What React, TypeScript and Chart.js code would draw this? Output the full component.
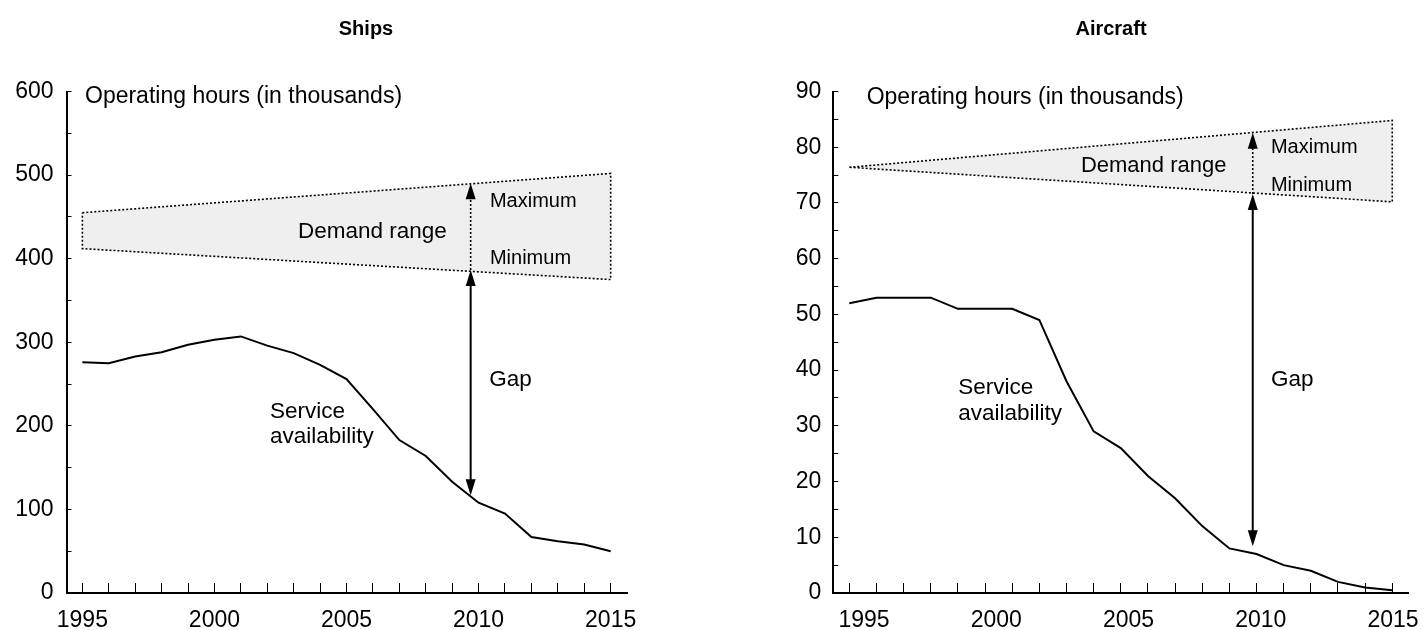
import React, { useEffect, useRef } from 'react';
import { Chart, registerables } from 'chart.js';

Chart.register(...registerables);

// ---------- data ----------
const years = [1995, 1996, 1997, 1998, 1999, 2000, 2001, 2002, 2003, 2004, 2005, 2006, 2007, 2008, 2009, 2010, 2011, 2012, 2013, 2014, 2015];
const axisLabelYears = [1995, 2000, 2005, 2010, 2015];
const demandYears = [1995, 2015];

const shipsAvailability = [276, 275, 283, 288, 297, 303, 307, 296, 287, 273, 256, 220, 183, 164, 133, 108, 95, 67, 62, 58, 50];
const shipsDemandMax = [455, 502];
const shipsDemandMin = [412, 375];
// year of the gap arrow, maximum tip, minimum tip, availability tip
const shipsArrow = [2009.7, 490.3, 386.5, 117];

const aircraftAvailability = [52, 53, 53, 53, 51, 51, 51, 49, 38, 29, 26, 21, 17, 12, 8, 7, 5, 4, 2, 1, 0.5];
const aircraftDemandMax = [76.4, 84.8];
const aircraftDemandMin = [76.4, 70.2];
const aircraftArrow = [2009.86, 82.6, 71.6, 8.4];

const FONT = "'Liberation Sans', Arial, Helvetica, sans-serif";

type Txt = { t: string; x: number; y: number; s: number };
type Panel = {
  title: string;
  titleX: number;
  left: number;
  width: number;
  axisLeft: number;
  padRight: number;
  availability: number[];
  demandMax: number[];
  demandMin: number[];
  arrow: number[];
  yMax: number;
  yStep: number;
  yLabelEvery: number;
  yLabelPad: number;
  xRange: number[];
  labelRange: number[];
  texts: Txt[];
};

const panels: Panel[] = [
  {
    title: 'Ships',
    titleX: 366,
    left: 0,
    width: 713,
    axisLeft: 66.5,
    padRight: 85.7,
    availability: shipsAvailability,
    demandMax: shipsDemandMax,
    demandMin: shipsDemandMin,
    arrow: shipsArrow,
    yMax: 600,
    yStep: 50,
    yLabelEvery: 100,
    yLabelPad: 18,
    xRange: [1994.4, 2015.63],
    labelRange: [1994.4, 2015.63],
    texts: [
      { t: 'Operating hours (in thousands)', x: 1995.1, y: 585.9, s: 23 },
      { t: 'Demand range', x: 2003.16, y: 424.4, s: 22.5 },
      { t: 'Maximum', x: 2010.43, y: 462.2, s: 20 },
      { t: 'Minimum', x: 2010.43, y: 393.6, s: 20 },
      { t: 'Gap', x: 2010.4, y: 247.7, s: 22.5 },
      { t: 'Service', x: 2002.1, y: 209, s: 22.5 },
      { t: 'availability', x: 2002.1, y: 179.1, s: 22.5 },
    ],
  },
  {
    title: 'Aircraft',
    titleX: 398,
    left: 713,
    width: 713,
    axisLeft: 120.3,
    padRight: 17.7,
    availability: aircraftAvailability,
    demandMax: aircraftDemandMax,
    demandMin: aircraftDemandMin,
    arrow: aircraftArrow,
    yMax: 90,
    yStep: 5,
    yLabelEvery: 10,
    yLabelPad: 17,
    xRange: [1994.41, 2015.59],
    labelRange: [1993.84, 2015.58],
    texts: [
      { t: 'Operating hours (in thousands)', x: 1995.64, y: 87.76, s: 23 },
      { t: 'Demand range', x: 2003.53, y: 75.6, s: 22 },
      { t: 'Maximum', x: 2010.53, y: 78.9, s: 20 },
      { t: 'Minimum', x: 2010.53, y: 72.15, s: 20 },
      { t: 'Gap', x: 2010.53, y: 37.15, s: 22.5 },
      { t: 'Service', x: 1999.01, y: 35.7, s: 22.5 },
      { t: 'availability', x: 1999.01, y: 31.05, s: 22.5 },
    ],
  },
];

function makeAnnotations(p: Panel) {
  return {
    id: 'annotations_' + p.title,
    afterDatasetsDraw(chart: any) {
      const ctx = chart.ctx as CanvasRenderingContext2D;
      const xs = chart.scales.x;
      const ys = chart.scales.y;
      const [yr, vTop, vMid, vBot] = p.arrow;
      const ax = xs.getPixelForValue(yr);
      const yTop = ys.getPixelForValue(vTop);
      const yMid = ys.getPixelForValue(vMid);
      const yBot = ys.getPixelForValue(vBot);
      const headLen = 16;
      const headHalf = 5;
      ctx.save();
      ctx.strokeStyle = '#000';
      ctx.fillStyle = '#000';
      // dotted range arrow
      ctx.lineWidth = 1.6;
      ctx.setLineDash([2, 2]);
      ctx.beginPath();
      ctx.moveTo(ax, yMid);
      ctx.lineTo(ax, yTop + headLen - 2);
      ctx.stroke();
      ctx.setLineDash([]);
      // solid gap arrow
      ctx.lineWidth = 2;
      ctx.beginPath();
      ctx.moveTo(ax, yMid + headLen - 2);
      ctx.lineTo(ax, yBot - headLen + 2);
      ctx.stroke();
      const head = (tipY: number, dir: number) => {
        ctx.beginPath();
        ctx.moveTo(ax, tipY);
        ctx.lineTo(ax - headHalf, tipY - dir * headLen);
        ctx.lineTo(ax + headHalf, tipY - dir * headLen);
        ctx.closePath();
        ctx.fill();
      };
      head(yTop, -1);
      head(yMid, -1);
      head(yBot, 1);
      // texts
      ctx.textAlign = 'left';
      ctx.textBaseline = 'alphabetic';
      for (const t of p.texts) {
        ctx.font = `${t.s}px ${FONT}`;
        ctx.fillText(t.t, xs.getPixelForValue(t.x), ys.getPixelForValue(t.y));
      }
      // panel title
      ctx.font = `bold 20px ${FONT}`;
      ctx.textAlign = 'center';
      ctx.textBaseline = 'middle';
      ctx.fillText(p.title, p.titleX, 29);
      ctx.restore();
    },
  };
}

function buildConfig(p: Panel): any {
  const service = years.map((yr, i) => ({ x: yr, y: p.availability[i] }));
  const maxLine = demandYears.map((yr, i) => ({ x: yr, y: p.demandMax[i] }));
  const minLine = demandYears.map((yr, i) => ({ x: yr, y: p.demandMin[i] }));
  const outline = [
    { x: demandYears[0], y: p.demandMax[0] },
    { x: demandYears[1], y: p.demandMax[1] },
    { x: demandYears[1], y: p.demandMin[1] },
    { x: demandYears[0], y: p.demandMin[0] },
    { x: demandYears[0], y: p.demandMax[0] },
  ];
  return {
    type: 'line',
    data: {
      datasets: [
        {
          label: 'Service availability',
          data: service,
          borderColor: '#000',
          borderWidth: 2,
          pointRadius: 0,
          fill: false,
          tension: 0,
        },
        {
          label: 'Demand outline',
          data: outline,
          borderColor: '#000',
          borderWidth: 1.6,
          borderDash: [2, 2],
          pointRadius: 0,
          fill: false,
          tension: 0,
        },
        {
          label: 'Maximum',
          data: maxLine,
          borderWidth: 0,
          borderColor: 'rgba(0,0,0,0)',
          backgroundColor: '#efefef',
          pointRadius: 0,
          fill: '+1',
        },
        {
          label: 'Minimum',
          data: minLine,
          borderWidth: 0,
          borderColor: 'rgba(0,0,0,0)',
          pointRadius: 0,
          fill: false,
        },
      ],
    },
    options: {
      responsive: false,
      animation: false,
      devicePixelRatio: 1,
      layout: { padding: { left: 0, right: p.padRight, top: 91.5, bottom: 0 } },
      plugins: {
        legend: { display: false },
        tooltip: { enabled: false },
        title: { display: false },
      },
      scales: {
        x: {
          type: 'linear',
          position: 'bottom',
          min: p.xRange[0],
          max: p.xRange[1],
          afterBuildTicks: (s: any) => {
            s.ticks = years.map((v) => ({ value: v }));
          },
          afterFit: (s: any) => {
            s.height = 0;
          },
          ticks: { display: false },
          grid: {
            display: true,
            drawOnChartArea: false,
            drawTicks: true,
            tickLength: -10,
            tickColor: '#000',
            tickWidth: 1,
          },
          border: { display: true, color: '#000', width: 2 },
        },
        x2: {
          type: 'linear',
          position: 'bottom',
          min: p.labelRange[0],
          max: p.labelRange[1],
          afterBuildTicks: (s: any) => {
            s.ticks = axisLabelYears.map((v) => ({ value: v }));
          },
          afterFit: (s: any) => {
            s.height = 37;
          },
          ticks: {
            color: '#000',
            font: { family: FONT, size: 23 },
            padding: 5.5,
            maxRotation: 0,
            autoSkip: false,
            callback: (v: any) => String(v),
          },
          grid: { display: false },
          border: { display: false },
        },
        y: {
          type: 'linear',
          min: 0,
          max: p.yMax,
          afterFit: (s: any) => {
            s.width = p.axisLeft;
          },
          ticks: {
            stepSize: p.yStep,
            color: '#000',
            font: { family: FONT, size: 23 },
            padding: p.yLabelPad,
            autoSkip: false,
            callback: (v: any) => (Number(v) % p.yLabelEvery === 0 ? String(v) : ''),
          },
          grid: {
            display: true,
            drawOnChartArea: false,
            drawTicks: true,
            tickLength: -5,
            tickColor: '#000',
            tickWidth: 1,
          },
          border: { display: true, color: '#000', width: 2 },
        },
      },
    },
    plugins: [makeAnnotations(p)],
  };
}

function PanelChart({ panel }: { panel: Panel }) {
  const ref = useRef<HTMLCanvasElement>(null);
  useEffect(() => {
    const chart = new Chart(ref.current as HTMLCanvasElement, buildConfig(panel));
    return () => chart.destroy();
  }, [panel]);
  return (
    <canvas
      ref={ref}
      width={panel.width}
      height={630}
      style={{ position: 'absolute', left: panel.left, top: 0, width: panel.width, height: 630 }}
    />
  );
}

export default function App() {
  return (
    <div style={{ position: 'absolute', left: 0, top: 0, width: 1426, height: 630, background: '#fff', overflow: 'hidden' }}>
      {panels.map((p) => (
        <PanelChart key={p.title} panel={p} />
      ))}
    </div>
  );
}
